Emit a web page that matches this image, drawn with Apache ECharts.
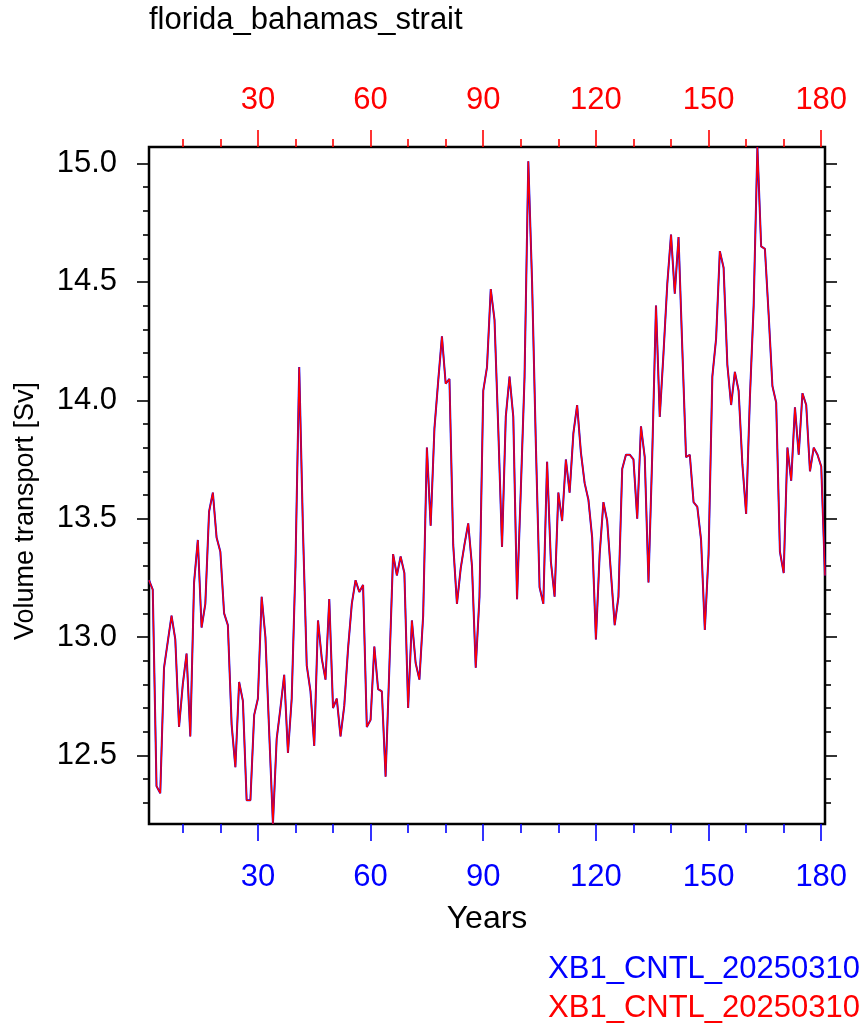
<!DOCTYPE html>
<html><head><meta charset="utf-8">
<script src="https://cdn.jsdelivr.net/npm/echarts@6/dist/echarts.min.js"></script>
<style>html,body{margin:0;padding:0;background:#fff}#c{width:863px;height:1035px}</style>
</head><body><div id="c"></div>
<script>
const chartTitle = 'florida_bahamas_strait';
const yTitle = 'Volume transport [Sv]';
const xTitle = 'Years';
const seriesNames = ['XB1_CNTL_20250310', 'XB1_CNTL_20250310'];
const seriesColors = ['#0000ff', '#ff0000'];
const firstYear = 1;
const transport = [
  13.24, 13.20, 12.37, 12.34, 12.87, 12.98, 13.09, 12.99, 12.62, 12.80,
  12.93, 12.58, 13.23, 13.41, 13.04, 13.14, 13.53, 13.61, 13.42, 13.36,
  13.10, 13.05, 12.63, 12.45, 12.81, 12.73, 12.31, 12.31, 12.67, 12.74,
  13.17, 13.00, 12.60, 12.21, 12.57, 12.70, 12.84, 12.51, 12.74, 13.30,
  14.14, 13.45, 12.88, 12.77, 12.54, 13.07, 12.91, 12.82, 13.16, 12.70,
  12.74, 12.58, 12.71, 12.95, 13.14, 13.24, 13.19, 13.22, 12.62, 12.65,
  12.96, 12.78, 12.77, 12.41, 12.87, 13.35, 13.26, 13.34, 13.27, 12.70,
  13.07, 12.89, 12.82, 13.09, 13.80, 13.47, 13.88, 14.08, 14.27, 14.07,
  14.09, 13.39, 13.14, 13.29, 13.39, 13.48, 13.30, 12.87, 13.17, 14.04,
  14.14, 14.47, 14.34, 13.88, 13.38, 13.93, 14.10, 13.93, 13.16, 13.62,
  14.10, 15.01, 14.50, 13.82, 13.21, 13.14, 13.74, 13.32, 13.17, 13.61,
  13.49, 13.75, 13.61, 13.86, 13.98, 13.78, 13.65, 13.58, 13.42, 12.99,
  13.35, 13.57, 13.49, 13.27, 13.05, 13.17, 13.71, 13.77, 13.77, 13.75,
  13.50, 13.89, 13.76, 13.23, 13.77, 14.40, 13.93, 14.20, 14.49, 14.70,
  14.45, 14.69, 14.22, 13.76, 13.77, 13.57, 13.55, 13.41, 13.03, 13.35,
  14.10, 14.26, 14.63, 14.56, 14.15, 13.98, 14.12, 14.04, 13.73, 13.52,
  14.01, 14.40, 15.07, 14.65, 14.64, 14.36, 14.06, 13.99, 13.36, 13.27,
  13.80, 13.66, 13.97, 13.77, 14.03, 13.98, 13.70, 13.80, 13.77, 13.72,
  13.26
];
const xMajorTicks = [30, 60, 90, 120, 150, 180];
const xMinorTicks = [10, 20, 40, 50, 70, 80, 100, 110, 130, 140, 160, 170];
const yMajorTicks = [12.5, 13.0, 13.5, 14.0, 14.5, 15.0];
const yMinorTicks = [12.3, 12.4, 12.6, 12.7, 12.8, 12.9, 13.1, 13.2, 13.3, 13.4,
  13.6, 13.7, 13.8, 13.9, 14.1, 14.2, 14.3, 14.4, 14.6, 14.7, 14.8, 14.9];

const FONT = "'Liberation Sans', Arial, Helvetica, sans-serif";
const points = transport.map((v, i) => [firstYear + i, v]);
const xMin = firstYear, xMax = firstYear + transport.length - 1;
const yMin = Math.min(...transport), yMax = Math.max(...transport);

function xAxisDef(pos, ticks, len, color, label, margin) {
  return {
    type: 'value', position: pos, min: xMin, max: xMax,
    axisLine: { show: false, onZero: false }, splitLine: { show: false },
    axisTick: { show: true, inside: false, length: len, customValues: ticks,
      lineStyle: { color: color, width: 1.6 } },
    axisLabel: { show: label, customValues: ticks, color: color, fontSize: 31,
      fontFamily: FONT, margin: margin }
  };
}
function yAxisDef(pos, ticks, len, label) {
  return {
    type: 'value', position: pos, min: yMin, max: yMax,
    axisLine: { show: false, onZero: false }, splitLine: { show: false },
    axisTick: { show: true, inside: false, length: len, customValues: ticks,
      lineStyle: { color: '#000', width: 1.6 } },
    axisLabel: { show: label, customValues: ticks, color: '#000', fontSize: 31,
      fontFamily: FONT, margin: 32, formatter: v => v.toFixed(1) }
  };
}

const chart = echarts.init(document.getElementById('c'), null, { renderer: 'canvas' });
chart.setOption({
  animation: false,
  backgroundColor: '#fff',
  grid: { left: 149, right: 38, top: 147, bottom: 211, show: true,
    borderColor: '#000', borderWidth: 2.5, backgroundColor: 'transparent' },
  xAxis: [
    xAxisDef('bottom', xMajorTicks, 17, seriesColors[0], true, 38),
    xAxisDef('bottom', xMinorTicks, 9, seriesColors[0], false, 8),
    xAxisDef('top', xMajorTicks, 17, seriesColors[1], true, 31),
    xAxisDef('top', xMinorTicks, 8, seriesColors[1], false, 8)
  ],
  yAxis: [
    yAxisDef('left', yMajorTicks, 12, true),
    yAxisDef('left', yMinorTicks, 6, false),
    yAxisDef('right', yMajorTicks, 12, false),
    yAxisDef('right', yMinorTicks, 6, false)
  ],
  series: [
    { name: seriesNames[0], type: 'line', data: points, xAxisIndex: 0, yAxisIndex: 0,
      showSymbol: false, lineStyle: { color: seriesColors[0], width: 2 }, z: 2 },
    { name: seriesNames[1], type: 'line', data: points, xAxisIndex: 0, yAxisIndex: 0,
      showSymbol: false, lineStyle: { color: seriesColors[1], width: 1.4 }, z: 3 }
  ],
  graphic: [
    { type: 'text', x: 149, y: 20, style: { text: chartTitle, fill: '#000',
      font: '31px ' + FONT, textAlign: 'left', textVerticalAlign: 'middle' } },
    { type: 'text', x: 26, y: 511, rotation: Math.PI / 2, style: { text: yTitle, fill: '#000',
      font: '27px ' + FONT, textAlign: 'center', textVerticalAlign: 'middle' } },
    { type: 'text', x: 487, y: 919, style: { text: xTitle, fill: '#000',
      font: '32px ' + FONT, textAlign: 'center', textVerticalAlign: 'middle' } },
    { type: 'text', x: 860, y: 969, style: { text: seriesNames[0], fill: seriesColors[0],
      font: '31px ' + FONT, textAlign: 'right', textVerticalAlign: 'middle' } },
    { type: 'text', x: 860, y: 1008, style: { text: seriesNames[1], fill: seriesColors[1],
      font: '31px ' + FONT, textAlign: 'right', textVerticalAlign: 'middle' } }
  ]
});
</script></body></html>
